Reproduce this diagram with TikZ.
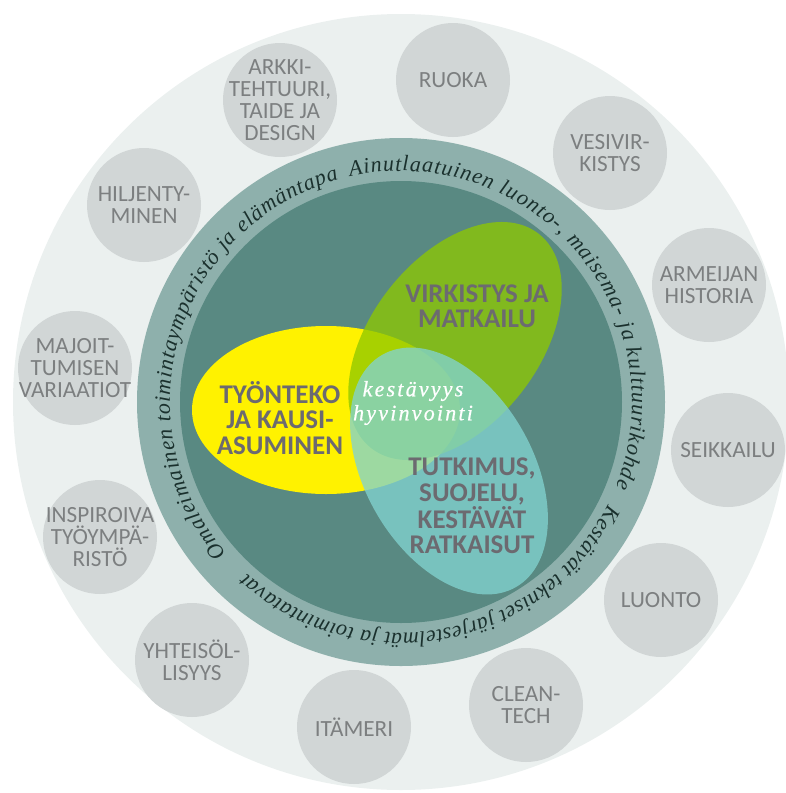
\documentclass[tikz,border=0pt]{standalone}
\usepackage{fontspec}
\usetikzlibrary{decorations.text}
\newfontfamily\graysans{Carlito}
\newfontfamily\serifit{Liberation Serif}
\newfontfamily\ctrserif{Liberation Serif}[LetterSpace=10,FakeBold=0.6]
\newcommand\bandtxt{\serifit\itshape\fontsize{22}{23}\selectfont\color{bandtext}}
\definecolor{outerbg}{HTML}{EBF0EF}
\definecolor{graycirc}{HTML}{D1D6D6}
\definecolor{graytext}{HTML}{7C7F80}
\definecolor{bandcol}{HTML}{8EB0AC}
\definecolor{darkcol}{HTML}{598982}
\definecolor{bandtext}{HTML}{1A302D}
\definecolor{yellowc}{HTML}{FFF200}
\definecolor{greenc}{HTML}{8EC800}
\definecolor{tealc}{HTML}{82D3CF}
\definecolor{venntext}{HTML}{6C6A70}
\begin{document}
\begin{tikzpicture}[x=1pt,y=1pt,
  smallcirc/.style={circle, fill=graycirc, minimum size=114pt, inner sep=0pt},
  graylabel/.style={text=graytext, font=\graysans\fontsize{23.2}{22}\selectfont, align=center, inner sep=0pt},
  vennlabel/.style={text=venntext, font=\graysans\bfseries\fontsize{27}{25.5}\selectfont, align=center, inner sep=0pt},
  ctrlabel/.style={text=white, font=\ctrserif\itshape\fontsize{22}{24}\selectfont, align=center, inner sep=0pt},
  bandpath/.style={decorate, decoration={text along path, text align=fit to path, text={|\bandtxt|#1}}}
]
\useasboundingbox (0,0) rectangle (785,-793);
\coordinate (ctr) at (401,-402);
\fill[outerbg] (ctr) circle[radius=388];
% small circles
\node[smallcirc] (c1) at (280,-100) {};
\node[smallcirc] (c2) at (453,-80) {};
\node[smallcirc] (c3) at (610,-153) {};
\node[smallcirc] (c4) at (709,-285) {};
\node[smallcirc] (c5) at (728,-450) {};
\node[smallcirc] (c6) at (661,-600) {};
\node[smallcirc] (c7) at (526,-705) {};
\node[smallcirc] (c8) at (354,-727) {};
\node[smallcirc] (c9) at (192,-660) {};
\node[smallcirc] (c10) at (100,-537) {};
\node[smallcirc] (c11) at (75,-368) {};
\node[smallcirc] (c12) at (144,-205) {};
\node[graylabel] (t1) at (c1) {ARKKI-\\TEHTUURI,\\TAIDE JA\\DESIGN};
\node[graylabel] (t2) at (c2) {RUOKA};
\node[graylabel] (t3) at (c3) {VESIVIR-\\KISTYS};
\node[graylabel] (t4) at (c4) {ARMEIJAN\\HISTORIA};
\node[graylabel] (t5) at (c5) {SEIKKAILU};
\node[graylabel] (t6) at (c6) {LUONTO};
\node[graylabel] (t7) at (c7) {CLEAN-\\TECH};
\node[graylabel] (t8) at (c8) {ITÄMERI};
\node[graylabel] (t9) at (c9) {YHTEISÖL-\\LISYYS};
\node[graylabel] (t10) at (c10) {INSPIROIVA\\TYÖYMPÄ-\\RISTÖ};
\node[graylabel] (t11) at (c11) {MAJOIT-\\TUMISEN\\VARIAATIOT};
\node[graylabel] (t12) at (c12) {HILJENTY-\\MINEN};
% band and centre
\fill[bandcol] (ctr) circle[radius=264];
\fill[darkcol] (ctr) circle[radius=221];
% ellipses
\fill[yellowc] (326,-410) ellipse[x radius=134, y radius=84];
\fill[greenc, fill opacity=0.77, rotate around={52:(455,-341)}] (455,-341) ellipse[x radius=136, y radius=84];
\fill[tealc, fill opacity=0.78, rotate around={-60:(449,-471)}] (449,-471) ellipse[x radius=134, y radius=84];
% venn labels
\node[vennlabel] (tyo) at (280,-418) {TYÖNTEKO\\JA KAUSI-\\ASUMINEN};
\node[vennlabel] (virk) at (477,-306) {VIRKISTYS JA\\MATKAILU};
\node[vennlabel] (tutk) at (472,-506) {TUTKIMUS,\\SUOJELU,\\KESTÄVÄT\\RATKAISUT};
\node[ctrlabel] (kest) at (413,-403) {kestävyys\\hyvinvointi};
% band texts
\path[bandpath={Omaleimainen toimintaympäristö ja elämäntapa}] ([shift={(221:231)}]ctr) arc[start angle=221, end angle=105.6, radius=231];
\path[bandpath={Ainutlaatuinen luonto-, maisema- ja kulttuurikohde}] ([shift={(102.7:231)}]ctr) arc[start angle=102.7, end angle=-21.7, radius=231];
\path[bandpath={Kestävät tekniset järjestelmät ja toimintatavat}] ([shift={(-26.3:231)}]ctr) arc[start angle=-26.3, end angle=-132, radius=231];
\end{tikzpicture}
\end{document}
